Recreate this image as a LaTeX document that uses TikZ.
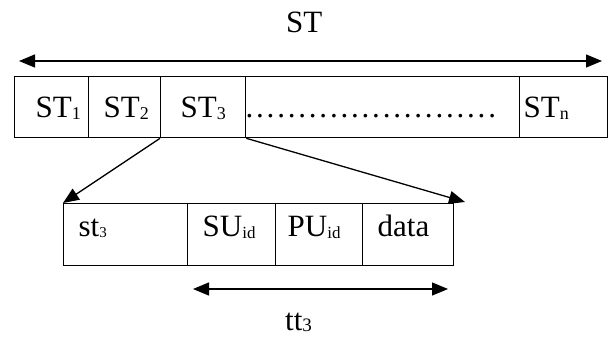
\documentclass[tikz,border=0pt]{standalone}
\usepackage{fontspec}
\setmainfont{Liberation Serif}
\usetikzlibrary{arrows.meta}
\setlength\parindent{0pt}
% lowered small index: #1 size, #2 drop, #3 text
\newcommand\idx[3]{\raisebox{-#2pt}{\fontsize{#1pt}{#1pt}\selectfont #3}}
% row of evenly spaced dots
\newcommand\dotrow{\hbox to 253.2pt{\xleaders\hbox to 10.55pt{.\hss}\hfill}}

\begin{document}
\begin{tikzpicture}[x=1pt,y=-1pt,
  cell/.style={draw, line width=1.3pt, rectangle, anchor=north west,
    inner xsep=0pt, inner ysep=0pt, align=left, text width=#1,
    font=\fontsize{31pt}{31pt}\selectfont},
  toprow/.style={cell=#1, text height=41pt, text depth=20pt},
  lowrow/.style={cell=#1, text height=32.5pt, text depth=29.5pt},
  tip/.tip={Triangle[length=16pt,width=13pt]},
  span/.style={line width=1.3pt, tip-tip},
  link/.style={line width=1.3pt, -tip},
  lbl/.style={anchor=base west, inner sep=0pt, font=\fontsize{31pt}{31pt}\selectfont}]

\useasboundingbox (0,0) rectangle (608,338);

% overall frame length
\node[lbl] (st) at (286,32) {ST};
\coordinate (stL) at (19,61);
\coordinate (stR) at (602,61);
\draw[span] (stL) -- (stR);

% slots of the frame
\node[toprow=74pt]  (c1) at (14,76)  {\hspace*{21pt}ST\idx{18}{2}{1}};
\node[toprow=72pt]  (c2) at (88,76)  {\hspace*{15pt}ST\idx{18}{2}{2}};
\node[toprow=85pt]  (c3) at (160,76) {\hspace*{20pt}ST\idx{18}{2}{3}};
\node[toprow=274pt] (c4) at (245,76) {\dotrow};
\node[toprow=88pt]  (c5) at (519,76) {\hspace*{4pt}ST\idx{18}{2}{n}};

% expanded slot 3
\node[lowrow=124pt] (b1) at (63,203)  {\hspace*{15pt}st\idx{15}{1}{3}};
\node[lowrow=88pt]  (b2) at (187,203) {\hspace*{15pt}SU\idx{17}{2.5}{id}};
\node[lowrow=87pt]  (b3) at (275,203) {\hspace*{12pt}PU\idx{17}{2.5}{id}};
\node[lowrow=91pt]  (b4) at (362,203) {\hspace*{15pt}data};

\coordinate (zoomR) at (465,202);
\draw[link] (c3.south west) -- (b1.north west);
\draw[link] (c3.south east) -- (zoomR);

% transmission time of slot 3
\coordinate (ttL) at (193,289);
\coordinate (ttR) at (448,289);
\draw[span] (ttL) -- (ttR);
\node[lbl] (tt) at (285,330) {tt\idx{19}{1.3}{3}};
\end{tikzpicture}
\end{document}
